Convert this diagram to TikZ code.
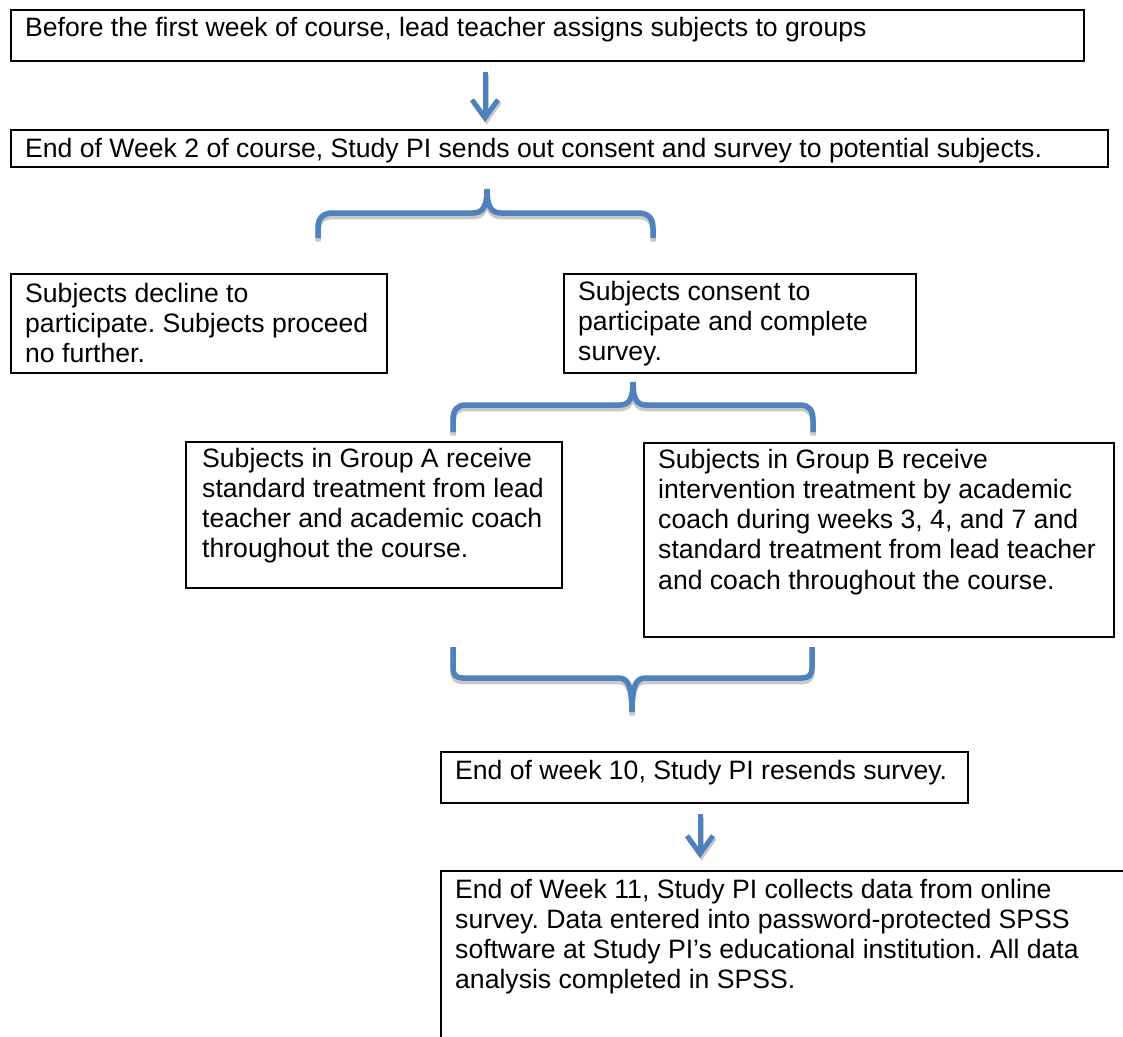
\documentclass[tikz,border=0pt]{standalone}
\usepackage{fontspec}
\setmainfont{Liberation Sans}
\usetikzlibrary{arrows.meta}
\definecolor{flowblue}{HTML}{4F81BD}
\definecolor{shadegray}{HTML}{C8C8C8}
\frenchspacing

\begin{document}
\begin{tikzpicture}[x=1pt,y=-1pt,
  box/.style={draw=black, line width=2.4pt, rectangle, inner sep=0pt, anchor=north west},
  txt/.style={anchor=base west, inner sep=0pt, align=left, font=\fontsize{26.6}{30.3}\selectfont},
  brace/.style={draw=flowblue, line width=5.5pt,
    preaction={draw=shadegray, line width=5.5pt, transform canvas={yshift=-3.5pt}}},
  flowarrow/.style={draw=flowblue, line width=5pt, line join=round,
    -{Straight Barb[length=18pt,width=26pt]},
    preaction={draw=shadegray, line width=5pt, transform canvas={xshift=1.5pt,yshift=-2.5pt},
      -{Straight Barb[length=18pt,width=26pt]}}}
]
\useasboundingbox (0,0) rectangle (1123,1036);
\clip (0,0) rectangle (1123,1036);
\fill[white] (0,0) rectangle (1123,1036);

% boxes
\node[box, minimum width=1073pt, minimum height=51pt] (b1) at (10,9) {};
\node[txt] (t1) at (25,36) {Before the first week of course, lead teacher assigns subjects to groups};

\node[box, minimum width=1097pt, minimum height=37pt] (b2) at (10,129) {};
\node[txt] (t2) at (25,157) {End of Week 2 of course, Study PI sends out consent and survey to potential subjects.};

\node[box, minimum width=376pt, minimum height=99pt] (b3) at (10,273) {};
\node[txt] (t3) at (25,302) {\parbox[t]{370pt}{Subjects decline to\\participate. Subjects proceed\\no further.}};

\node[box, minimum width=352pt, minimum height=99pt] (b4) at (563,273) {};
\node[txt] (t4) at (578,300) {\parbox[t]{340pt}{Subjects consent to\\participate and complete\\survey.}};

\node[box, minimum width=376pt, minimum height=146pt] (b5) at (185,441) {};
\node[txt] (t5) at (202,467) {\parbox[t]{370pt}{Subjects in Group A receive\\standard treatment from lead\\teacher and academic coach\\throughout the course.}};

\node[box, minimum width=470pt, minimum height=194pt] (b6) at (643,442) {};
\node[txt] (t6) at (658,468) {\parbox[t]{460pt}{Subjects in Group B receive\\intervention treatment by academic\\coach during weeks 3, 4, and 7 and\\standard treatment from lead teacher\\and coach throughout the course.}};

\node[box, minimum width=527pt, minimum height=51pt] (b7) at (440,751) {};
\node[txt] (t7) at (455,779) {End of week 10, Study PI resends survey.};

\node[box, minimum width=700pt, minimum height=220pt] (b8) at (440,870) {};
\node[txt] (t8) at (455,898) {\parbox[t]{680pt}{End of Week 11, Study PI collects data from online\\survey. Data entered into password-protected SPSS\\software at Study PI’s educational institution. All data\\analysis completed in SPSS.}};

% arrows
\coordinate (ax1) at (485,0);
\coordinate (ax2) at (700,0);
\draw[flowarrow, shorten <=10pt, shorten >=7pt] (b1.south -| ax1) -- (b2.north -| ax1);
\draw[flowarrow, shorten <=10pt, shorten >=12pt] (b7.south -| ax2) -- (b8.north -| ax2);

% braces
\draw[brace] (318,238) -- (318,228) .. controls (318,218) and (323,213) .. (333,213)
  -- (473,213) .. controls (483,213) and (487,206) .. (487,189)
  .. controls (487,206) and (491,213) .. (501,213)
  -- (638,213) .. controls (648,213) and (653,218) .. (653,228) -- (653,238);

\draw[brace] (453,432) -- (453,420) .. controls (453,410) and (457,405) .. (466,405)
  -- (620,405) .. controls (629,405) and (633,399) .. (633,382)
  .. controls (633,399) and (637,405) .. (646,405)
  -- (800,405) .. controls (809,405) and (813,410) .. (813,420) -- (813,432);

\draw[brace] (453,647) -- (453,668) .. controls (453,675) and (456,678) .. (463,678)
  -- (618,678) .. controls (628,678) and (632,685) .. (632,712)
  .. controls (632,685) and (636,678) .. (646,678)
  -- (802,678) .. controls (809,678) and (812,675) .. (812,668) -- (812,647);
\end{tikzpicture}
\end{document}
